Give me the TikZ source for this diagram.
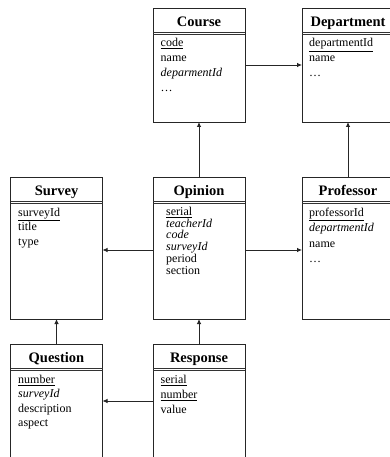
\documentclass[tikz,border=0pt]{standalone}
\usepackage{fontspec}
\setmainfont{Liberation Serif}
\usetikzlibrary{arrows.meta}
\tikzset{
  box/.style={draw=black!85, line width=0.9pt, minimum width=92pt, inner sep=0pt, outer sep=0pt},
  ttl/.style={font=\fontsize{14.5}{16}\selectfont\bfseries, inner sep=0pt, anchor=base},
  attr/.style={font=\fontsize{12}{14}\selectfont, inner sep=0pt, anchor=base west},
  sepl/.style={draw=black!80, line width=0.7pt},
  arr/.style={draw=black!85, line width=0.8pt, -{Latex[length=5pt,width=4.5pt]}},
}
\newcommand\seprule[3]{\draw[sepl] (#1,#3) -- (#2,#3); \draw[sepl] (#1,#3+1.7) -- (#2,#3+1.7);}
\begin{document}
\begin{tikzpicture}[x=1pt,y=-1pt]
\useasboundingbox (0,0) rectangle (390,457);
\fill[white] (0,0) rectangle (390,457);
\clip (0,0) rectangle (390,457);
% boxes
\node[box, minimum height=114pt] (course) at (199,65) {};
\node[box, minimum height=114pt] (dept) at (348,65) {};
\node[box, minimum height=142pt] (survey) at (56.5,248) {};
\node[box, minimum height=142pt] (opinion) at (199,248) {};
\node[box, minimum height=142pt] (prof) at (348,248) {};
\node[box, minimum height=114pt] (question) at (56.5,401) {};
\node[box, minimum height=114pt] (response) at (199,401) {};
% titles
\node[ttl] (course-t) at (199,26.5) {Course};
\node[ttl] (dept-t) at (348,26.5) {Department};
\node[ttl] (survey-t) at (56.5,195.5) {Survey};
\node[ttl] (opinion-t) at (199,195.5) {Opinion};
\node[ttl] (prof-t) at (348,195.5) {Professor};
\node[ttl] (question-t) at (56.5,362.5) {Question};
\node[ttl] (response-t) at (199,362.5) {Response};
% separators
\seprule{153}{245}{32.3}
\seprule{302}{394}{32.3}
\seprule{10.5}{102.5}{201.3}
\seprule{153}{245}{201.3}
\seprule{302}{394}{201.3}
\seprule{10.5}{102.5}{368.3}
\seprule{153}{245}{368.3}
% attributes
\foreach \t [count=\i] in {\underline{code}, name, \textit{deparmentId}, \ldots}
  \node[attr] (course-\i) at (160.5,{47+15*(\i-1)}) {\t};
\foreach \t [count=\i] in {\underline{departmentId}, name, \ldots}
  \node[attr] (dept-\i) at (309,{47+15*(\i-1)}) {\t};
\foreach \t [count=\i] in {\underline{surveyId}, title, type}
  \node[attr] (survey-\i) at (18,{216+14.5*(\i-1)}) {\t};
\foreach \t [count=\i] in {\underline{serial}, \textit{teacherId}, \textit{code}, \textit{surveyId}, period, section}
  \node[attr] (opinion-\i) at (166,{215.5+11.7*(\i-1)}) {\t};
\foreach \t [count=\i] in {\underline{professorId}, \textit{departmentId}, name, \ldots}
  \node[attr] (prof-\i) at (309,{216+15.5*(\i-1)}) {\t};
\foreach \t [count=\i] in {\underline{number}, \textit{surveyId}, description, aspect}
  \node[attr] (question-\i) at (18,{383.5+14.3*(\i-1)}) {\t};
\foreach \t [count=\i] in {\underline{serial}, \underline{number}, value}
  \node[attr] (response-\i) at (160.5,{383.5+15*(\i-1)}) {\t};
% connectors
\draw[arr] (course.east) -- (dept.west);
\draw[arr] (opinion.north) -- (course.south);
\draw[arr] (prof.north) -- (dept.south);
\draw[arr] ([yshift=-2pt]opinion.west) -- ([yshift=-2pt]survey.east);
\draw[arr] ([yshift=-2pt]opinion.east) -- ([yshift=-2pt]prof.west);
\draw[arr] (question.north) -- (survey.south);
\draw[arr] (response.north) -- (opinion.south);
\draw[arr] (response.west) -- (question.east);
\end{tikzpicture}
\end{document}
